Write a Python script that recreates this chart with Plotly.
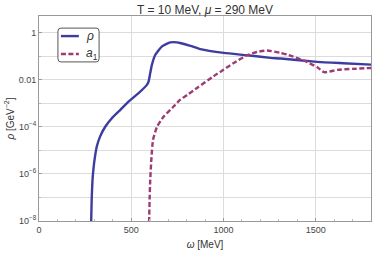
import plotly.graph_objects as go

# omega [MeV] and log10(rho [GeV^-2])
rho_omega = [281, 283, 286, 290, 295, 301, 313, 331, 359, 395, 440, 485, 540, 585, 594, 603, 612,
             630, 667, 712, 748, 766, 821, 875, 1002, 1128, 1255, 1310, 1509, 1650, 1800]
rho_log = [-9.0, -8.0, -7.0, -6.26, -5.8, -5.4, -4.84, -4.41, -3.99, -3.63, -3.28, -2.92, -2.56, -2.21, -2.07, -1.71, -1.36,
           -0.94, -0.57, -0.40, -0.40, -0.43, -0.55, -0.69, -0.85, -0.95, -1.06, -1.09, -1.23, -1.29, -1.35]

a1_omega = [595, 597, 600, 603, 609, 618, 640, 676, 730, 766, 810, 857, 947, 1002, 1056, 1128,
            1183, 1237, 1310, 1346, 1437, 1509, 1545, 1618, 1700, 1800]
a1_log = [-9.0, -8.0, -7.0, -6.26, -5.4, -4.55, -3.99, -3.56, -3.13, -2.84, -2.6, -2.34, -1.84, -1.56, -1.28, -0.95,
          -0.81, -0.75, -0.85, -0.92, -1.18, -1.46, -1.67, -1.57, -1.53, -1.49]

y_tickvals = [1e-8, 1e-6, 1e-4, 1e-2, 1]
y_ticktext = ["10<sup>\u22128</sup>", "10<sup>\u22126</sup>", "10<sup>\u22124</sup>", "0.01", "1"]
y_minor = [1e-7, 1e-5, 1e-3, 1e-1]
x_tickvals = [0, 500, 1000, 1500]

series_names = ["<i>\u03c1</i>", "<i>a</i><sub>1</sub>"]
series_colors = ["#3d3d9f", "#9e3b72"]
series_dash = ["solid", "5px,2.5px"]

rho_vals = [10 ** v for v in rho_log]
a1_vals = [10 ** v for v in a1_log]

fig = go.Figure()
for xs, ys, nm, col, ds in [(rho_omega, rho_vals, series_names[0], series_colors[0], series_dash[0]),
                            (a1_omega, a1_vals, series_names[1], series_colors[1], series_dash[1])]:
    fig.add_trace(go.Scatter(x=xs, y=ys, mode="lines", name=nm, showlegend=False,
                             line=dict(color=col, width=2.4, shape="spline", smoothing=0.5, dash=ds)))

# custom legend (rounded box, short samples)
x0, x1, y0, y1, rx, ry = 0.057, 0.181, 0.776, 0.941, 0.009, 0.015
path = (f"M{x0+rx},{y0} L{x1-rx},{y0} Q{x1},{y0} {x1},{y0+ry} L{x1},{y1-ry} Q{x1},{y1} {x1-rx},{y1} "
        f"L{x0+rx},{y1} Q{x0},{y1} {x0},{y1-ry} L{x0},{y0+ry} Q{x0},{y0} {x0+rx},{y0} Z")
shapes = [dict(type="path", xref="paper", yref="paper", path=path,
               line=dict(color="#555", width=1), fillcolor="white", layer="above")]
annotations = []
for i, yy in enumerate([0.902, 0.815]):
    shapes.append(dict(type="line", xref="paper", yref="paper", x0=0.066, x1=0.120, y0=yy, y1=yy,
                       line=dict(color=series_colors[i], width=2.4, dash=series_dash[i]), layer="above"))
    annotations.append(dict(xref="paper", yref="paper", x=0.136, y=yy, xanchor="left", yanchor="middle",
                            text=series_names[i], showarrow=False, font=dict(size=12, color="#333")))

fig.update_layout(
    width=374, height=253,
    margin=dict(l=39, r=3, t=16, b=32),
    paper_bgcolor="white", plot_bgcolor="white",
    font=dict(family="Liberation Sans, Arial, sans-serif", size=9, color="#444"),
    title=dict(text="T = 10 MeV, <i>\u03bc</i> = 290 MeV", xref="paper", x=0.5, xanchor="center",
               yref="container", y=0.963, yanchor="middle", font=dict(size=12, color="#333")),
    showlegend=False, shapes=shapes, annotations=annotations,
)
fig.update_xaxes(range=[0, 1800], tickvals=x_tickvals, showgrid=True, gridcolor="#dcdcdc", gridwidth=1,
                 showline=True, linecolor="#999", mirror=True, ticks="inside", ticklen=3, tickcolor="#999",
                 zeroline=False, automargin=False,
                 minor=dict(dtick=100, ticks="inside", ticklen=2, tickcolor="#bbb", showgrid=False),
                 title=dict(text="<i>\u03c9</i> [MeV]", font=dict(size=10, color="#333"), standoff=7))
fig.update_yaxes(type="log", range=[-8, 0.72], tickvals=y_tickvals, ticktext=y_ticktext,
                 showgrid=True, gridcolor="#dcdcdc", gridwidth=1, automargin=False,
                 showline=True, linecolor="#999", mirror=True, ticks="inside", ticklen=3, tickcolor="#999",
                 minor=dict(tickvals=y_minor, showgrid=True, gridcolor="#dcdcdc", ticks="inside", ticklen=2, tickcolor="#bbb"),
                 title=dict(text="<i>\u03c1</i> [GeV<sup>\u22122</sup>]", font=dict(size=10, color="#333"), standoff=2))

fig.write_html("out.html", config={"displayModeBar": False},
               post_script="document.body.style.margin='0';document.body.style.padding='0';")
